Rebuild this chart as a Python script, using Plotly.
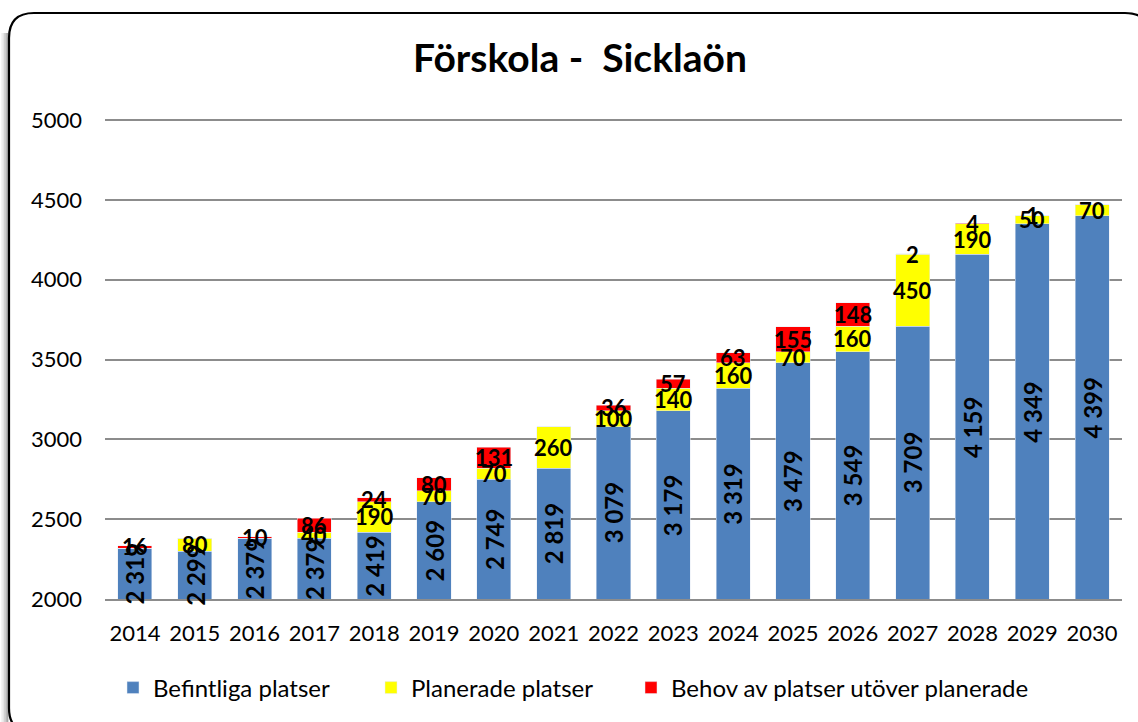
import plotly.graph_objects as go

years = ["2014", "2015", "2016", "2017", "2018", "2019", "2020", "2021", "2022",
         "2023", "2024", "2025", "2026", "2027", "2028", "2029", "2030"]
befintliga = [2319, 2299, 2379, 2379, 2419, 2609, 2749, 2819, 3079,
              3179, 3319, 3479, 3549, 3709, 4159, 4349, 4399]
planerade = [0, 80, 0, 40, 190, 70, 70, 260, 100,
             140, 160, 70, 160, 450, 190, 50, 70]
behov = [16, 0, 10, 86, 24, 80, 131, 0, 36,
         57, 63, 155, 148, 2, 4, 1, 0]

y_ticks = [2000, 2500, 3000, 3500, 4000, 4500, 5000]
y_min, y_max = 2000, 5000

BLUE = "#4f81bd"
YELLOW = "#ffff00"
RED = "#ff0000"
FONT = "Lato"

W, H = 1138, 722
ML, MR, MT, MB = 105, 16, 118, 123
# plot top sits 2px above the 5000 gridline so the gridline is drawn
px_per_unit = (H - MB - 120) / (y_max - y_min)
y_top = y_max + 2 / px_per_unit

fig = go.Figure()
fig.add_bar(x=years, y=befintliga, name="Befintliga platser", marker_color=BLUE, legend="legend")
fig.add_bar(x=years, y=planerade, name="Planerade platser", marker_color=YELLOW, legend="legend2")
fig.add_bar(x=years, y=behov, name="Behov av platser utöver planerade", marker_color=RED,
            legend="legend3")


def sv(n):
    return f"{n:,}".replace(",", " ")


lab_font = dict(family=FONT, size=22, color="black")
blue_font = dict(family=FONT, size=24, color="black")
annotations = []
for i, yr in enumerate(years):
    b, p, r = befintliga[i], planerade[i], behov[i]
    annotations.append(dict(x=i, y=(y_min + b) / 2, text=f"<b>{sv(b)}</b>", textangle=-90,
                            showarrow=False, font=blue_font,
                            xanchor="center", yanchor="middle"))
    if p:
        annotations.append(dict(x=i, y=b + p / 2, text=f"<b>{p}</b>", showarrow=False,
                                font=lab_font, xanchor="center", yanchor="middle"))
    if r:
        annotations.append(dict(x=i, y=b + p + r / 2, text=f"<b>{r}</b>", showarrow=False,
                                font=lab_font, xanchor="center", yanchor="middle"))

pw = W - ML - MR
ph = H - MT - MB


def px(x):
    return (x - ML) / pw


def py(y):
    return (H - MB - y) / ph


L, T, R, B, rad = 9, 13, 1150, 733, 25
frame = (f"M {px(L)},{py(B - rad)} L {px(L)},{py(T + rad)} "
         f"Q {px(L)},{py(T)} {px(L + rad)},{py(T)} "
         f"L {px(R - rad)},{py(T)} Q {px(R)},{py(T)} {px(R)},{py(T + rad)} "
         f"L {px(R)},{py(B - rad)} Q {px(R)},{py(B)} {px(R - rad)},{py(B)} "
         f"L {px(L + rad)},{py(B)} Q {px(L)},{py(B)} {px(L)},{py(B - rad)} Z")

shapes = []
for k, col in enumerate(["#f2f2f2", "#e4e4e4", "#d2d2d2", "#bdbdbd", "#a8a8a8"]):
    off = 7 - k * 1.4
    shapes.append(dict(type="line", xref="paper", yref="paper",
                       x0=px(L - off), x1=px(L - off), y0=py(T + 20), y1=py(B - 10),
                       line=dict(color=col, width=1.6), layer="below"))
shapes.append(dict(type="path", xref="paper", yref="paper", path=frame,
                   line=dict(color="black", width=2.2), layer="below"))

leg_common = dict(orientation="h", xref="container", yref="container",
                  xanchor="left", y=1 - 688 / H, yanchor="middle",
                  font=dict(family=FONT, size=24, color="black"),
                  bgcolor="rgba(0,0,0,0)")

fig.update_layout(
    width=W, height=H,
    margin=dict(l=ML, r=MR, t=MT, b=MB, autoexpand=False),
    barmode="stack",
    bargap=0.43,
    plot_bgcolor="white",
    paper_bgcolor="white",
    font=dict(family=FONT, color="black"),
    title=dict(text="<b>Förskola -\u00a0 Sicklaön</b>", x=580 / W, xanchor="center",
               xref="container", y=1 - 58 / H, yanchor="middle", yref="container",
               font=dict(family=FONT, size=39, color="black")),
    showlegend=True,
    legend=dict(x=113 / W, **leg_common),
    legend2=dict(x=371 / W, **leg_common),
    legend3=dict(x=631 / W, **leg_common),
    annotations=annotations,
    shapes=shapes,
)
fig.update_xaxes(type="category", range=[-0.5, len(years) - 0.5], showgrid=False,
                 showline=True, linecolor="#8c8c8c", linewidth=2, ticks="",
                 tickfont=dict(family=FONT, size=22, color="black"), ticklabelstandoff=14)
fig.update_yaxes(range=[y_min, y_top], tickvals=y_ticks, showgrid=True, gridcolor="#8c8c8c",
                 gridwidth=1.6, zeroline=False, showline=False, ticks="",
                 tickfont=dict(family=FONT, size=22, color="black"), ticklabelstandoff=22)

fig.write_html("out.html", config={"displayModeBar": False},
               post_script="document.body.style.margin='0px';")
